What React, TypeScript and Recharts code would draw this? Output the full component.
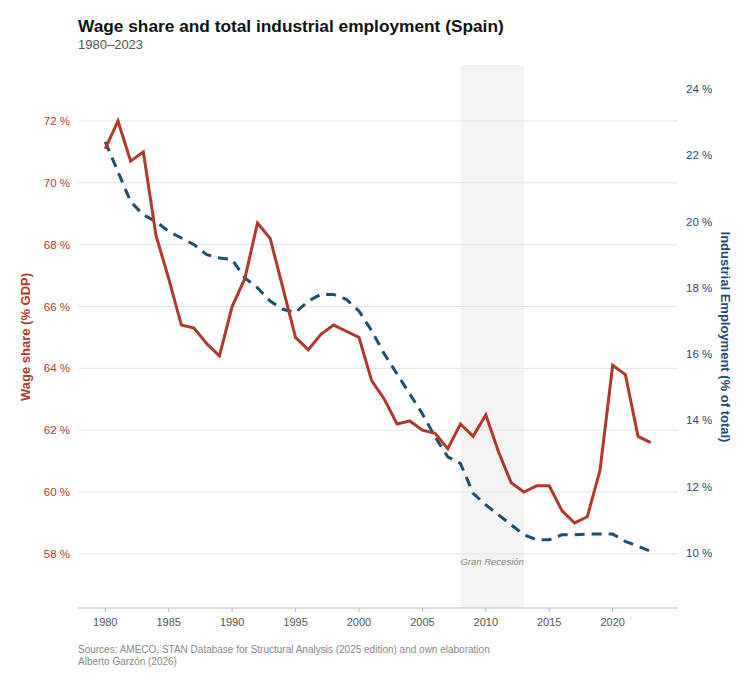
import { ComposedChart, Line, XAxis, YAxis, ReferenceLine, ReferenceArea } from "recharts"

const years = [
	1980, 1981, 1982, 1983, 1984, 1985, 1986, 1987, 1988, 1989, 1990, 1991, 1992, 1993, 1994, 1995, 1996, 1997, 1998, 1999, 2000, 2001,
	2002, 2003, 2004, 2005, 2006, 2007, 2008, 2009, 2010, 2011, 2012, 2013, 2014, 2015, 2016, 2017, 2018, 2019, 2020, 2021, 2022, 2023,
]

// wage share, % of GDP (left axis)
const wageShare = [
	71.1, 72.0, 70.7, 71.0, 68.3, 66.9, 65.4, 65.3, 64.8, 64.4, 66.0, 66.9, 68.7, 68.2, 66.6, 65.0, 64.6, 65.1, 65.4, 65.2, 65.0, 63.6,
	63.0, 62.2, 62.3, 62.0, 61.9, 61.4, 62.2, 61.8, 62.5, 61.3, 60.3, 60.0, 60.2, 60.2, 59.4, 59.0, 59.2, 60.7, 64.1, 63.8, 61.8, 61.6,
]

// industrial employment, % of total (right axis)
const industrialEmployment = [
	22.4, 21.5, 20.6, 20.2, 20.0, 19.7, 19.5, 19.3, 19.0, 18.9, 18.85, 18.3, 18.0, 17.6, 17.35, 17.25, 17.6, 17.8, 17.8, 17.65, 17.3, 16.7,
	16.0, 15.4, 14.8, 14.2, 13.5, 12.9, 12.7, 11.8, 11.45, 11.15, 10.85, 10.55, 10.4, 10.4, 10.55, 10.55, 10.57, 10.57, 10.57, 10.35, 10.2,
	10.05,
]

const xTicks = [1980, 1985, 1990, 1995, 2000, 2005, 2010, 2015, 2020]
const leftTicks = [58, 60, 62, 64, 66, 68, 70, 72]
const rightTicks = [10, 12, 14, 16, 18, 20, 22, 24]

const data = years.map((year, i) => ({ year, wage: wageShare[i], industry: industrialEmployment[i] }))

const FONT = '"Liberation Sans", Arial, Helvetica, sans-serif'
const RED = "#b0392e"
const BLUE = "#1c4e6e"

export default function App() {
	return (
		<div style={{ position: "absolute", left: 0, top: 0, width: 756, height: 679, fontFamily: FONT, background: "#fff" }}>
			<div style={{ position: "absolute", left: 78, top: 18, fontSize: 17.3, lineHeight: "17.3px", fontWeight: "bold", color: "#111", whiteSpace: "nowrap" }}>
				Wage share and total industrial employment (Spain)
			</div>
			<div style={{ position: "absolute", left: 78, top: 38, fontSize: 13, lineHeight: "13px", color: "#555" }}>1980–2023</div>

			<ComposedChart width={756} height={679} data={data} margin={{ top: 65, right: 18, bottom: 41, left: 18 }} style={{ fontFamily: FONT }}>
				<ReferenceArea
					yAxisId="left"
					x1={2008}
					x2={2013}
					fill="#f4f4f4"
					fillOpacity={1}
					stroke="none"
					label={{ value: "Gran Recesión", position: "insideBottom", offset: 43, fill: "#888", fontSize: 9.5, fontStyle: "italic" }}
				/>
				{leftTicks.map((t) => (
					<ReferenceLine key={t} yAxisId="left" y={t} stroke="#e4e4e4" strokeWidth={1} />
				))}
				<XAxis
					dataKey="year"
					type="number"
					domain={[1977.85, 2025.15]}
					ticks={xTicks}
					allowDataOverflow
					height={30}
					tickSize={4}
					tickMargin={6}
					axisLine={{ stroke: "#bbb" }}
					tickLine={{ stroke: "#bbb" }}
					tick={{ fill: "#555", fontSize: 11 }}
				/>
				<YAxis
					yAxisId="left"
					orientation="left"
					width={60}
					domain={[56.25, 73.81]}
					ticks={leftTicks}
					allowDataOverflow
					axisLine={false}
					tickLine={false}
					tickFormatter={(v) => `${v} %`}
					tick={{ fill: RED, fontSize: 11.5 }}
				/>
				<YAxis
					yAxisId="right"
					orientation="right"
					width={60}
					domain={[8.34, 24.72]}
					ticks={rightTicks}
					allowDataOverflow
					axisLine={false}
					tickLine={false}
					tickFormatter={(v) => `${v} %`}
					tick={{ fill: BLUE, fontSize: 11.5, textAnchor: "start" }}
				/>
				<Line yAxisId="right" dataKey="industry" stroke={BLUE} strokeWidth={3} strokeDasharray="10 7" dot={false} isAnimationActive={false} />
				<Line yAxisId="left" dataKey="wage" stroke={RED} strokeWidth={3} dot={false} isAnimationActive={false} />
			</ComposedChart>

			<div
				style={{
					position: "absolute",
					left: 25,
					top: 337,
					transform: "translate(-50%, -50%) rotate(-90deg)",
					fontSize: 13,
					fontWeight: "bold",
					color: RED,
					whiteSpace: "nowrap",
				}}
			>
				Wage share (% GDP)
			</div>
			<div
				style={{
					position: "absolute",
					left: 725,
					top: 337,
					transform: "translate(-50%, -50%) rotate(90deg)",
					fontSize: 13,
					fontWeight: "bold",
					color: BLUE,
					whiteSpace: "nowrap",
				}}
			>
				Industrial Employment (% of total)
			</div>

			<div style={{ position: "absolute", left: 78, top: 644, fontSize: 10, lineHeight: "12px", color: "#888" }}>
				Sources: AMECO, STAN Database for Structural Analysis (2025 edition) and own elaboration
				<br />
				Alberto Garzón (2026)
			</div>
		</div>
	)
}
